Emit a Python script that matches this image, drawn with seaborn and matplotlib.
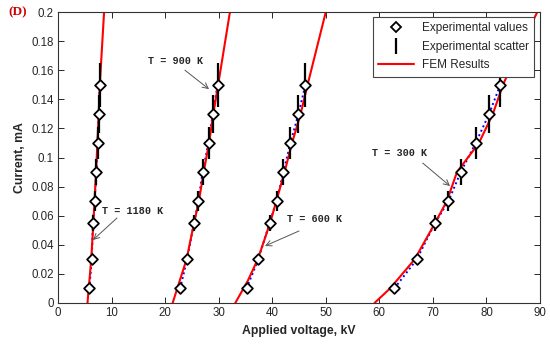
import matplotlib
matplotlib.use("Agg")
import matplotlib.pyplot as plt
import seaborn as sns
import pandas as pd
import numpy as np
from matplotlib.lines import Line2D
from matplotlib.ticker import FormatStrFormatter

# ---------------- data ----------------
currents = [0.01, 0.03, 0.055, 0.07, 0.09, 0.11, 0.13, 0.15]
scatter_err = [0.001, 0.003, 0.0055, 0.007, 0.009, 0.011, 0.013, 0.015]

exp_1180 = [5.85, 6.29, 6.53, 6.84, 7.15, 7.40, 7.60, 7.78]
exp_900 = [22.8, 24.1, 25.4, 26.2, 27.0, 28.1, 28.9, 29.8]
exp_600 = [35.2, 37.4, 39.5, 40.8, 42.1, 43.4, 44.9, 46.2]
exp_300 = [62.8, 67.0, 70.4, 72.9, 75.2, 78.0, 80.5, 82.6]

fem_1180_v = [5.5, 6.2, 6.6, 7.1, 7.6, 7.8, 8.6]
fem_1180_i = [0.0, 0.03, 0.055, 0.09, 0.13, 0.15, 0.2]
fem_900_v = [21.4, 24.0, 25.4, 26.3, 27.2, 28.2, 29.0, 29.9, 32.1]
fem_900_i = [0.0, 0.03, 0.055, 0.07, 0.09, 0.11, 0.13, 0.15, 0.2]
fem_600_v = [33.1, 35.4, 37.3, 39.6, 42.3, 43.7, 45.3, 46.6, 50.0]
fem_600_i = [0.0, 0.015, 0.03, 0.055, 0.09, 0.11, 0.13, 0.15, 0.2]
fem_300_v = [59.1, 62.0, 66.6, 70.4, 72.6, 74.5, 78.6, 81.2, 83.1, 85.5, 89.5]
fem_300_i = [0.0, 0.01, 0.03, 0.055, 0.07, 0.09, 0.11, 0.13, 0.15, 0.17, 0.2]

temps = ["1180 K", "900 K", "600 K", "300 K"]
labels_text = ["T = 1180 K", "T = 900 K", "T = 600 K", "T = 300 K"]
label_pos = [(8.2, 0.0632), (16.8, 0.1663), (42.8, 0.0577), (58.6, 0.103)]
arrow_start = [(11.0, 0.0584), (23.7, 0.160), (45.0, 0.0495), (68.1, 0.0962)]
arrow_tip = [(6.53, 0.0433), (28.2, 0.147), (38.65, 0.0392), (73.2, 0.0804)]

exp_all = [exp_1180, exp_900, exp_600, exp_300]
fem_all = [(fem_1180_v, fem_1180_i), (fem_900_v, fem_900_i),
           (fem_600_v, fem_600_i), (fem_300_v, fem_300_i)]

exp_df = pd.concat([pd.DataFrame({"V": v, "I": currents, "err": scatter_err, "T": t})
                    for v, t in zip(exp_all, temps)], ignore_index=True)
fem_df = pd.concat([pd.DataFrame({"V": fv, "I": fi, "T": t})
                    for (fv, fi), t in zip(fem_all, temps)], ignore_index=True)

# ---------------- plot ----------------
sns.set_style("ticks")
plt.rcParams["font.family"] = ["Liberation Sans", "DejaVu Sans"]

fig = plt.figure(figsize=(5.5, 3.44), dpi=100)
ax = fig.add_axes([0.1055, 0.1192, 0.8763, 0.8458])

# blue dotted fit through experimental points
for t in temps:
    sub = exp_df[exp_df["T"] == t]
    sns.lineplot(data=sub, x="V", y="I", ax=ax, color="#0000ff", lw=1.4,
                 linestyle=(0, (1, 1.5)), sort=False, estimator=None, legend=False)

# red FEM curves
for t in temps:
    sub = fem_df[fem_df["T"] == t]
    sns.lineplot(data=sub, x="V", y="I", ax=ax, color="#ff0000", lw=1.5,
                 sort=False, estimator=None, legend=False)

# experimental scatter (vertical bars)
ax.vlines(exp_df["V"], exp_df["I"] - exp_df["err"], exp_df["I"] + exp_df["err"],
          colors="black", lw=1.6, zorder=4)

# experimental values (open diamonds)
sns.scatterplot(data=exp_df, x="V", y="I", ax=ax, marker="D", s=30,
                facecolor="white", edgecolor="black", linewidth=1.3, zorder=5,
                legend=False)

# annotations
for txt, pos, st, tip in zip(labels_text, label_pos, arrow_start, arrow_tip):
    ax.text(pos[0], pos[1], txt, fontsize=7.3, fontweight="bold",
            family=["Liberation Mono", "DejaVu Sans Mono"], va="center", ha="left")
    ax.annotate("", xy=tip, xytext=st,
                arrowprops=dict(arrowstyle="->", color="#555555", lw=0.7,
                                shrinkA=0, shrinkB=0))

ax.set_xlim(0, 90)
ax.set_ylim(0, 0.2)
ax.set_xticks(np.arange(0, 91, 10))
ax.set_yticks(np.arange(0, 0.2001, 0.02))
ax.yaxis.set_major_formatter(FormatStrFormatter("%g"))
ax.tick_params(direction="in", top=True, right=True, labelsize=8.3, length=4,
               width=0.7, pad=3)
for s in ax.spines.values():
    s.set_linewidth(0.8)
    s.set_color("#333333")

ax.set_xlabel("Applied voltage, kV", fontsize=8.8, fontweight="bold", labelpad=4)
ax.set_ylabel("Current, mA", fontsize=8.8, fontweight="bold", labelpad=4)

handles = [
    Line2D([], [], marker="D", ms=5, mfc="white", mec="black", mew=1.3, ls="none"),
    Line2D([], [], marker="|", ms=11, mec="black", mew=1.6, ls="none"),
    Line2D([], [], color="#ff0000", lw=1.5),
]
leg = ax.legend(handles, ["Experimental values", "Experimental scatter", "FEM Results"],
                loc="upper right", bbox_to_anchor=(0.988, 0.983), borderaxespad=0,
                fontsize=8.5, frameon=True, fancybox=False, framealpha=1,
                edgecolor="#444444", handlelength=3.0, labelspacing=0.55,
                borderpad=0.45, handletextpad=0.7)
leg.get_frame().set_linewidth(0.8)

fig.text(0.015, 0.965, "(D)", color="#cc0000", fontsize=9.5, fontweight="bold",
         family=["Liberation Serif", "DejaVu Serif"], va="center", ha="left")

fig.savefig("out.png", dpi=100)
